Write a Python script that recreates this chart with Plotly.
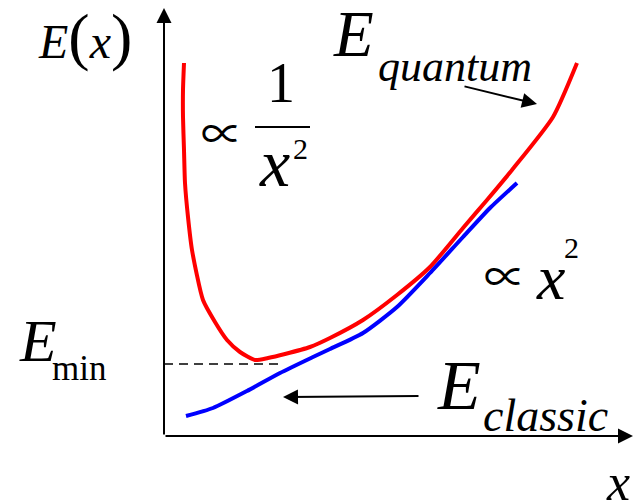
import plotly.graph_objects as go

# curves, origin at the axes corner
quantum_x = [20, 19, 19, 20, 21, 24, 28, 39, 51, 63, 76, 91, 104, 121, 146, 166, 199, 233, 266, 299, 323, 348, 389, 413]
quantum_y = [373, 346, 319, 286, 253, 219, 186, 136, 114, 96, 84, 76, 78, 82, 89, 98, 116, 141, 169, 208, 236, 266, 319, 373]

classic_x = [22, 49, 83, 116, 149, 166, 199, 233, 266, 299, 326, 353]
classic_y = [20, 28, 45, 63, 79, 87, 103, 129, 163, 199, 228, 253]

e_min = 72
e_min_end = 118

SERIF = "Liberation Serif, DejaVu Serif, serif"
PROP = "Noto Sans CJK JP, DejaVu Serif, serif"

fig = go.Figure()
fig.add_trace(go.Scatter(x=quantum_x, y=quantum_y, mode="lines",
                         line=dict(color="#ff0000", width=4, shape="spline", smoothing=0.6),
                         hoverinfo="skip"))
fig.add_trace(go.Scatter(x=classic_x, y=classic_y, mode="lines",
                         line=dict(color="#0000ff", width=4, shape="spline", smoothing=0.6),
                         hoverinfo="skip"))

# dashed E_min level
fig.add_shape(type="line", x0=0, x1=e_min_end, y0=e_min, y1=e_min,
              line=dict(color="black", width=1.5, dash="9px,6px"))


def arrow(x, y, ax, ay, width=2, size=1.5):
    fig.add_annotation(x=x, y=y, ax=ax, ay=ay, xref="x", yref="y", axref="x", ayref="y",
                       text="", showarrow=True, arrowhead=2, arrowsize=size,
                       arrowwidth=width, arrowcolor="black", standoff=0)


# axes
arrow(0, 428, 0, 0)
arrow(469, 0, 0, 0)
# pointers
arrow(373, 332, 299, 350)
arrow(119, 39, 256, 40)


def label(x, y, text, size, italic=True, family=SERIF):
    fig.add_annotation(x=x, y=y, xref="x", yref="y", text=text, showarrow=False,
                       xanchor="center", yanchor="middle",
                       font=dict(family=family, size=size, color="black",
                                 style="italic" if italic else "normal"))


label(-79, 400, "E<span style='font-style:normal;font-size:64px'>(</span>x"
      "<span style='font-style:normal;font-size:64px'>)</span>", 48)
label(58, 306, "∝", 42, italic=False, family=PROP)
label(117, 353, "1", 56, italic=False)
fig.add_shape(type="line", x0=91, x1=146, y0=309, y1=309, line=dict(color="black", width=2))
label(110, 273, "x", 68)
label(136, 288, "2", 30, italic=False)

label(189, 402, "E", 65)
label(291, 370, "quantum", 44)

label(341, 163, "∝", 42, italic=False, family=PROP)
label(386, 159, "x", 64)
label(407, 189, "2", 30, italic=False)

label(-126, 95, "E", 60)
label(-85, 68, "min", 35, italic=False)

label(295, 51, "E", 70)
label(381, 21, "classic", 46)

label(454, -46, "x", 52)

fig.update_layout(
    width=642, height=500,
    margin=dict(l=0, r=0, t=0, b=0),
    paper_bgcolor="white", plot_bgcolor="white",
    showlegend=False,
    xaxis=dict(range=[-164, 478], visible=False, fixedrange=True),
    yaxis=dict(range=[-64, 436], visible=False, fixedrange=True),
)

fig.write_html("out.html", config={"displayModeBar": False},
               post_script="document.body.style.margin = '0px';")
